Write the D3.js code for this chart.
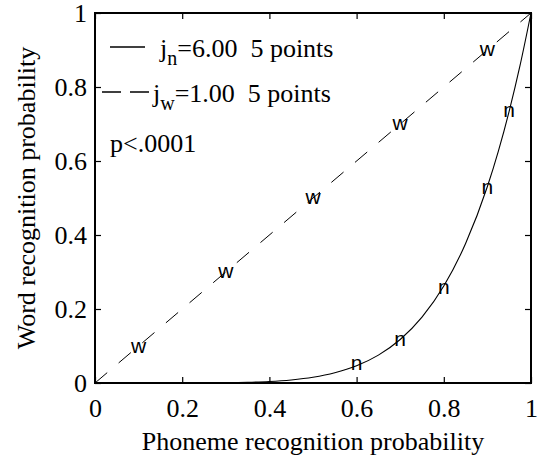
<!DOCTYPE html>
<html>
<head>
<meta charset="utf-8">
<script src="https://cdn.jsdelivr.net/npm/d3@7"></script>
<style>
  html, body { margin: 0; padding: 0; background: #fff; }
  svg { display: block; }
  .serif { font-family: "Liberation Serif", Tinos, "Times New Roman", Times, serif; }
  .sans { font-family: "Liberation Sans", Arimo, Arial, Helvetica, sans-serif; }
</style>
</head>
<body>
<svg id="chart" width="539" height="458"></svg>
<script>
// ---- data ----
const tickValues = [0, 0.2, 0.4, 0.6, 0.8, 1];
const tickLabels = ["0", "0.2", "0.4", "0.6", "0.8", "1"];

// word ("w") markers
const wX = [0.1, 0.3, 0.5, 0.7, 0.9];
const wY = [0.095, 0.3, 0.5, 0.7, 0.9];
// phoneme ("n") markers
const nX = [0.6, 0.7, 0.8, 0.9, 0.95];
const nY = [0.05, 0.115, 0.255, 0.525, 0.735];

// dashed fit line (j_w = 1.00)
const dashX = [0, 1];
const dashY = [0, 1];
// solid fit curve (j_n = 6.00)
const curveX = [0, 0.1, 0.2, 0.3, 0.35, 0.4, 0.45, 0.5, 0.55, 0.6, 0.65, 0.7, 0.75, 0.8, 0.85, 0.9, 0.925, 0.95, 0.975, 1];
const curveY = [0, 0, 0.0001, 0.0007, 0.0018, 0.004, 0.0083, 0.0156, 0.0277, 0.0467, 0.0754, 0.1176, 0.178, 0.262, 0.377, 0.531, 0.626, 0.735, 0.859, 1];

const legendLines = [
  { main: "j", sub: "n", rest: "=6.00  5 points", dashed: false },
  { main: "j", sub: "w", rest: "=1.00  5 points", dashed: true }
];
const annotation = "p<.0001";
const xTitle = "Phoneme recognition probability";
const yTitle = "Word recognition probability";

// ---- layout ----
const L = 95, R = 531, T = 13, B = 383;
const FS = 26;
const dash = "16,15";

const svg = d3.select("#chart");
const x = d3.scaleLinear().domain([0, 1]).range([L, R]);
const y = d3.scaleLinear().domain([0, 1]).range([B, T]);

// axes with inward ticks on all four sides
const fmt = (d) => tickLabels[tickValues.indexOf(d)];
const tk = 6;
const gB = svg.append("g").attr("transform", `translate(0,${B})`)
  .call(d3.axisBottom(x).tickValues(tickValues).tickFormat(fmt).tickSize(-tk).tickPadding(16));
const gL = svg.append("g").attr("transform", `translate(${L},0)`)
  .call(d3.axisLeft(y).tickValues(tickValues).tickFormat(fmt).tickSize(-tk).tickPadding(8));
const gT = svg.append("g").attr("transform", `translate(0,${T})`)
  .call(d3.axisTop(x).tickValues(tickValues).tickFormat("").tickSize(-tk));
const gR = svg.append("g").attr("transform", `translate(${R},0)`)
  .call(d3.axisRight(y).tickValues(tickValues).tickFormat("").tickSize(-tk));

[gB, gL, gT, gR].forEach(g => {
  g.attr("font-family", null).attr("font-size", null);
  g.select(".domain").remove();
  g.selectAll(".tick line").attr("stroke", "#000").attr("stroke-width", 1.2);
  g.selectAll(".tick text").attr("class", "serif").style("font-size", FS + "px").attr("fill", "#000");
});
gB.selectAll(".tick text").attr("dy", "0.68em");
gL.selectAll(".tick text").attr("dy", "0.34em");

// frame
svg.append("rect").attr("x", L).attr("y", T).attr("width", R - L).attr("height", B - T)
  .attr("fill", "none").attr("stroke", "#000").attr("stroke-width", 2);

// lines
const line = d3.line().x(d => x(d[0])).y(d => y(d[1]));
svg.append("path").datum(dashX.map((v, i) => [v, dashY[i]]))
  .attr("d", line).attr("fill", "none").attr("stroke", "#000").attr("stroke-width", 1)
  .attr("stroke-dasharray", dash);
svg.append("path").datum(curveX.map((v, i) => [v, curveY[i]]))
  .attr("d", line.curve(d3.curveMonotoneX)).attr("fill", "none").attr("stroke", "#000").attr("stroke-width", 1.1);

// markers (text)
const markers = svg.append("g").attr("class", "sans").style("font-size", "21px").attr("fill", "#000")
  .attr("text-anchor", "middle");
markers.selectAll("text.w").data(wX.map((v, i) => [v, wY[i]])).join("text")
  .attr("x", d => x(d[0])).attr("y", d => y(d[1]) + 5.5).text("w");
markers.selectAll("text.n").data(nX.map((v, i) => [v, nY[i]])).join("text")
  .attr("x", d => x(d[0])).attr("y", d => y(d[1]) + 5.5).text("n");

// legend
const legPos = [
  { x1: 110, x2: 145, ly: 47, tx: 160, ty: 57 },
  { x1: 102, x2: 150, ly: 92, tx: 153, ty: 102 }
];
legendLines.forEach((lg, i) => {
  const p = legPos[i];
  svg.append("line").attr("x1", p.x1).attr("x2", p.x2).attr("y1", p.ly).attr("y2", p.ly)
    .attr("stroke", "#000").attr("stroke-width", 1.3)
    .attr("stroke-dasharray", lg.dashed ? "19,9" : null);
  const t = svg.append("text").attr("class", "serif").attr("x", p.tx).attr("y", p.ty)
    .style("font-size", FS + "px").attr("fill", "#000").style("white-space", "pre");
  t.append("tspan").text(lg.main);
  t.append("tspan").style("font-size", "20px").attr("dy", 8).text(lg.sub);
  t.append("tspan").attr("dy", -8).text(lg.rest);
});
svg.append("text").attr("class", "serif").attr("x", 110).attr("y", 152)
  .style("font-size", FS + "px").attr("fill", "#000").text(annotation);

// axis titles
svg.append("text").attr("class", "serif").attr("x", (L + R) / 2).attr("y", 450).attr("text-anchor", "middle")
  .style("font-size", FS + "px").attr("fill", "#000").text(xTitle);
svg.append("text").attr("class", "serif").attr("transform", `translate(35,${(T + B) / 2}) rotate(-90)`)
  .attr("text-anchor", "middle")
  .style("font-size", FS + "px").attr("fill", "#000").text(yTitle);
</script>
</body>
</html>
